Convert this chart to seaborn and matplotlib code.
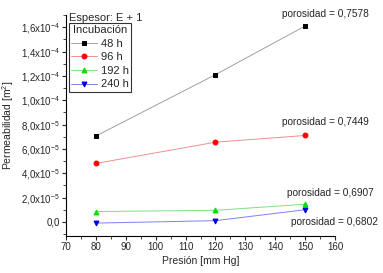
import matplotlib
matplotlib.use("Agg")
import matplotlib.pyplot as plt
import seaborn as sns
import pandas as pd
from matplotlib.ticker import MultipleLocator, FixedLocator

pressure = [80, 120, 150]
series_names = ["48 h", "96 h", "192 h", "240 h"]
perm_48 = [7.05e-5, 1.21e-4, 1.61e-4]
perm_96 = [4.8e-5, 6.55e-5, 7.1e-5]
perm_192 = [0.85e-5, 0.95e-5, 1.45e-5]
perm_240 = [-0.1e-5, 0.1e-5, 1.0e-5]
porosity_labels = ["porosidad = 0,7578", "porosidad = 0,7449",
                   "porosidad = 0,6907", "porosidad = 0,6802"]
ytick_vals = [0.0, 2e-5, 4e-5, 6e-5, 8e-5, 1e-4, 1.2e-4, 1.4e-4, 1.6e-4]
ytick_labels = ["0,0", r"2,0x10$^{-5}$", r"4,0x10$^{-5}$", r"6,0x10$^{-5}$",
                r"8,0x10$^{-5}$", r"1,0x10$^{-4}$", r"1,2x10$^{-4}$",
                r"1,4x10$^{-4}$", r"1,6x10$^{-4}$"]

rows = []
for name, vals in zip(series_names, [perm_48, perm_96, perm_192, perm_240]):
    for p, v in zip(pressure, vals):
        rows.append({"Presion": p, "Perm": v, "Incubación": name})
df = pd.DataFrame(rows)

sns.set_style("white")
plt.rcParams["font.family"] = ["Liberation Sans", "DejaVu Sans"]
plt.rcParams["mathtext.fontset"] = "custom"
plt.rcParams["mathtext.rm"] = "Liberation Sans"
plt.rcParams["mathtext.it"] = "Liberation Sans:italic"

fig = plt.figure(figsize=(3.83, 2.73), dpi=100)
ax = fig.add_axes([0.172, 0.136, 0.703, 0.809])

line_colors = ["#a0a0a0", "#f09090", "#80e080", "#8080f0"]
marker_colors = ["black", "red", "#00e000", "#0000e0"]
markers = ["s", "o", "^", "v"]
for name, lc, mc, mk in zip(series_names, line_colors, marker_colors, markers):
    sub = df[df["Incubación"] == name]
    sns.lineplot(data=sub, x="Presion", y="Perm", ax=ax, color=lc, lw=0.7,
                 marker=mk, markersize=3.5, markerfacecolor=mc, markeredgecolor=mc,
                 label=name, legend=False)

ax.set_xlim(70, 160)
ax.set_ylim(-1.15e-5, 1.70e-4)
ax.xaxis.set_major_locator(MultipleLocator(10))
ax.xaxis.set_minor_locator(MultipleLocator(5))
ax.yaxis.set_major_locator(FixedLocator(ytick_vals))
ax.set_yticklabels(ytick_labels)
ax.yaxis.set_minor_locator(MultipleLocator(1e-5))
ax.tick_params(axis="both", which="major", direction="out", length=3, width=0.8,
               labelsize=7, pad=1.5, left=True, bottom=True)
ax.tick_params(axis="both", which="minor", direction="out", length=2, width=0.6,
               left=True, bottom=True)
for s in ["top", "right"]:
    ax.spines[s].set_visible(False)
for s in ["left", "bottom"]:
    ax.spines[s].set_color("black")
    ax.spines[s].set_linewidth(0.8)

ax.set_xlabel("Presión [mm Hg]", fontsize=7.5, labelpad=3)
ax.set_ylabel("Permeabilidad [m$^2$]", fontsize=7.5, labelpad=3)

ann_pos = [(156.6, 1.705e-4), (156.6, 8.2e-5), (158.3, 2.4e-5), (159.8, 0.0)]
for txt, (x, y) in zip(porosity_labels, ann_pos):
    ax.text(x, y, txt, fontsize=7.3, ha="center", va="center", clip_on=False)

leg = ax.legend(title="Incubación", loc="upper left", bbox_to_anchor=(0.01, 0.964),
                fontsize=8, title_fontsize=8, frameon=True, fancybox=False,
                borderpad=0.2, labelspacing=0.32, handlelength=2.4,
                handletextpad=0.3, borderaxespad=0.0)
leg.get_frame().set_edgecolor("black")
leg.get_frame().set_linewidth(0.8)
ax.text(0.01, 0.986, "Espesor: E + 1", transform=ax.transAxes, fontsize=8,
        ha="left", va="center")

fig.savefig("out.png", dpi=100)
